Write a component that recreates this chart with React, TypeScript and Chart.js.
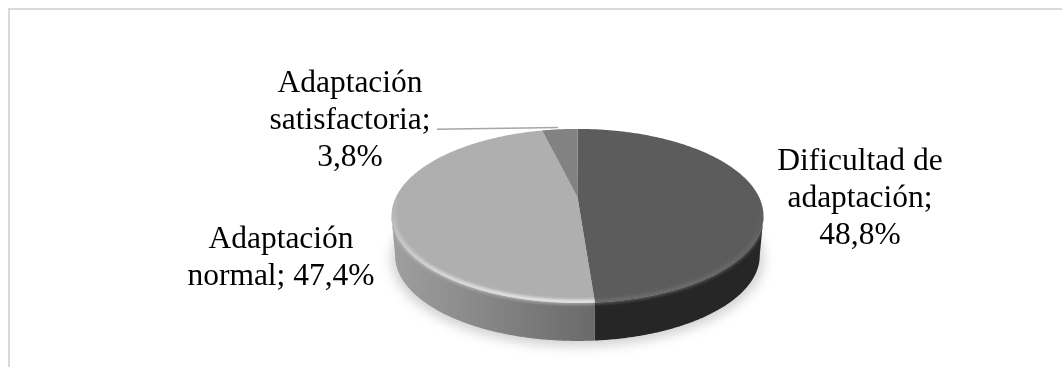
import React, { useEffect, useRef } from "react";
import { Chart, PieController, ArcElement } from "chart.js";

// Shares of each adaptation level, in percent
const categories = ["Dificultad de adaptación", "Adaptación normal", "Adaptación satisfactoria"];
const shares = [48.8, 47.4, 3.8];
const faceColors = ["#5c5c5c", "#afafaf", "#828282"];
const wallColors = ["#262626", "#6a6a6a", "#6a6a6a"];

const pct = (i: number) => `${shares[i].toFixed(1).replace(".", ",")}%`;

// Label text per slice, one entry per line
const labelLines = [
  ["Dificultad de", "adaptación;", pct(0)],
  ["Adaptación", "normal; " + pct(1)],
  ["Adaptación", "satisfactoria;", pct(2)],
];
const labelCenters = [860, 281, 350];
const labelBaselines = [170, 248, 92];

const DISC_RADIUS = 181.5;
const TILT = 0.457; // vertical foreshortening of the disc
const PERSPECTIVE = 0.218; // how much the far edge shrinks
const DEPTH = 40; // drop of the pie's lower disc
const LOWER_SCALE = 0.98; // the lower disc sits further from the viewer

// Maps a polar angle on the disc to the page with a simple perspective
function project(x: number, y: number, r: number, a: number): [number, number] {
  const u = Math.cos(a);
  const v = -Math.sin(a);
  const w = 1 + PERSPECTIVE * v;
  return [x + (r * u) / w, y - (r * TILT * v) / w];
}

function traceRim(ctx: CanvasRenderingContext2D, x: number, y: number, r: number, from: number, to: number, dy = 0, move = false) {
  const steps = Math.max(2, Math.ceil(Math.abs(to - from) / 0.01));
  for (let i = 0; i <= steps; i++) {
    const [px, py] = project(x, y, r, from + ((to - from) * i) / steps);
    if (i === 0 && move) ctx.moveTo(px, py + dy);
    else ctx.lineTo(px, py + dy);
  }
}

// Bright faces catch far more of the bevel highlight than dark ones
function rimStrength(hex: string) {
  const lum = parseInt(hex.slice(1, 3), 16) / 255;
  return Math.min(0.75, lum * lum * lum * 2.2);
}

// Pie slice rendered as a tilted disc segment with a side wall and a bevelled rim
class TiltedArc extends ArcElement {
  static id = "tiltedArc";

  draw(ctx: CanvasRenderingContext2D) {
    const { x, y, startAngle, endAngle, outerRadius: r } = (this as any).getProps(
      ["x", "y", "startAngle", "endAngle", "outerRadius"]
    );
    const opts = (this as any).options;
    const edge = Math.asin(PERSPECTIVE);
    const wallFrom = Math.max(startAngle, edge);
    const wallTo = Math.min(endAngle, Math.PI - edge);

    ctx.save();
    // side wall, only where the rim faces the viewer
    if (wallTo > wallFrom) {
      ctx.save();
      ctx.beginPath();
      traceRim(ctx, x, y, r, wallFrom, wallTo, 0, true);
      traceRim(ctx, x, y, r * LOWER_SCALE, wallTo, wallFrom, DEPTH);
      ctx.closePath();
      ctx.fillStyle = opts.borderColor;
      ctx.fill();
      const sheen = ctx.createLinearGradient(x - r * 1.03, 0, x + 16, 0);
      sheen.addColorStop(0, "rgba(255,255,255,0.36)");
      sheen.addColorStop(1, "rgba(255,255,255,0)");
      ctx.fillStyle = sheen;
      ctx.fill();
      // the face melts softly into the wall
      ctx.clip();
      ctx.filter = "blur(1.5px)";
      ctx.strokeStyle = opts.backgroundColor;
      ctx.lineWidth = 3;
      ctx.beginPath();
      traceRim(ctx, x, y, r, wallFrom, wallTo, 0, true);
      ctx.stroke();
      ctx.restore();
    }

    // top face
    ctx.beginPath();
    ctx.moveTo(x, y);
    traceRim(ctx, x, y, r, startAngle, endAngle);
    ctx.closePath();
    ctx.fillStyle = opts.backgroundColor;
    ctx.fill();

    // soft bevel along the front of the rim
    ctx.clip();
    const strength = rimStrength(opts.backgroundColor);
    const glow = ctx.createLinearGradient(0, y + 5, 0, y + 106);
    glow.addColorStop(0, `rgba(255,255,255,${strength * 0.1})`);
    glow.addColorStop(1, `rgba(255,255,255,${strength})`);
    ctx.filter = "blur(1.5px)";
    ctx.strokeStyle = glow;
    ctx.lineWidth = 4.5;
    ctx.beginPath();
    traceRim(ctx, x, y, r - 2, edge - 0.2, Math.PI - edge + 0.2, 0, true);
    ctx.stroke();
    ctx.restore();
  }
}

class TiltedPieController extends PieController {
  static id = "tiltedPie";
  static defaults = { dataElementType: "tiltedArc" };
}

Chart.register(TiltedPieController, TiltedArc);

const framePlugin = {
  id: "frame",
  beforeDatasetsDraw(chart: Chart) {
    const { ctx, width, height } = chart;
    ctx.save();
    ctx.fillStyle = "#d9d9d9";
    ctx.fillRect(8, 8, width - 8, 2);
    ctx.fillRect(8, 8, 2, height - 8);
    // contact shadow under the pie
    const { x, y, outerRadius: r } = chart.getDatasetMeta(0).data[0] as any;
    ctx.filter = "blur(6px)";
    ctx.fillStyle = "#d0d0d0";
    ctx.beginPath();
    traceRim(ctx, x, y, r, 0, Math.PI * 2, DEPTH + 3, true);
    ctx.closePath();
    ctx.fill();
    ctx.restore();
  },
};

const labelPlugin = {
  id: "sliceLabels",
  afterDatasetsDraw(chart: Chart) {
    const { ctx } = chart;
    ctx.save();
    // leader line for the smallest slice
    ctx.strokeStyle = "#a6a6a6";
    ctx.lineWidth = 1.5;
    ctx.beginPath();
    ctx.moveTo(437, 129.2);
    ctx.lineTo(558, 127.4);
    ctx.stroke();

    ctx.fillStyle = "#000000";
    ctx.font = '31.5px "Liberation Serif"';
    ctx.textAlign = "center";
    ctx.textBaseline = "alphabetic";
    labelLines.forEach((lines, i) => {
      lines.forEach((line, j) => {
        ctx.fillText(line, labelCenters[i], labelBaselines[i] + j * 37);
      });
    });
    ctx.restore();
  },
};

export default function App() {
  const ref = useRef<HTMLCanvasElement>(null);

  useEffect(() => {
    document.body.style.margin = "0";
    document.body.style.background = "#ffffff";
    const chart = new Chart(ref.current!, {
      type: "tiltedPie" as any,
      data: {
        labels: categories,
        datasets: [
          {
            data: shares,
            backgroundColor: faceColors,
            borderColor: wallColors,
            borderWidth: 0,
            radius: DISC_RADIUS,
          } as any,
        ],
      },
      options: {
        animation: false,
        responsive: false,
        layout: { padding: { left: 93, top: 27 } },
        plugins: { legend: { display: false }, tooltip: { enabled: false } },
      },
      plugins: [framePlugin, labelPlugin],
    });
    return () => chart.destroy();
  }, []);

  return <canvas ref={ref} width={1062} height={367} style={{ display: "block" }} />;
}
